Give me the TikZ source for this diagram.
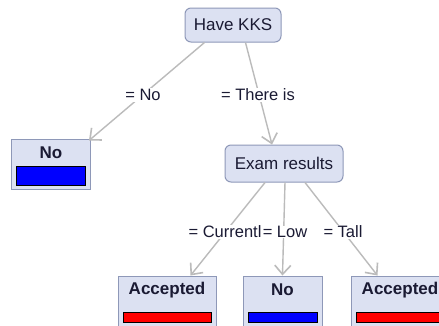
\documentclass[tikz,border=0pt]{standalone}
\usepackage{fontspec}
\setmainfont{Liberation Sans}
\usetikzlibrary{arrows.meta,calc}
\definecolor{boxfill}{HTML}{DCE1F2}
\definecolor{boxline}{HTML}{8E98B8}
\definecolor{edgec}{HTML}{BBBBBB}
\definecolor{txt}{HTML}{1A1A33}
\begin{document}
\begin{tikzpicture}[x=1pt,y=-1pt,
  inner/.style={draw=boxline, fill=boxfill, rounded corners=6pt, line width=1pt,
    font=\fontsize{17}{20}\selectfont, text=txt, inner sep=0pt},
  leafbox/.style={draw=boxline, fill=boxfill, line width=1pt, inner sep=0pt},
  leaftext/.style={font=\bfseries\fontsize{17}{20}\selectfont, text=txt, inner sep=0pt},
  barbox/.style={draw=black, line width=0.8pt, inner sep=0pt},
  edge/.style={draw=edgec, line width=1.4pt, -{Straight Barb[length=9pt,width=16pt,line width=1.6pt]}},
  elabel/.style={fill=white, font=\fontsize{16.5}{19}\selectfont, text=txt, inner sep=1pt}]
\useasboundingbox (0,0) rectangle (439,325);
\fill[white] (0,0) rectangle (439,325);
% inner nodes
\node[inner, minimum width=96pt, minimum height=34pt] (kks) at (233,25) {Have KKS};
\node[inner, minimum width=118pt, minimum height=37pt] (exam) at (284,163.5) {Exam results};
% left leaf
\node[leafbox, minimum width=79pt, minimum height=50pt] (no1) at (51,164) {};
\node[leaftext] (no1t) at (51,153) {No};
\node[barbox, fill=blue, minimum width=69pt, minimum height=19pt] (no1b) at (51,175.5) {};
% bottom leaves
\node[leafbox, minimum width=98pt, minimum height=52pt] (acc1) at (167,302) {};
\node[leaftext] (acc1t) at (167,290) {Accepted};
\node[barbox, fill=red, minimum width=88pt, minimum height=10pt] (acc1b) at (167,317) {};
\node[leafbox, minimum width=79pt, minimum height=52pt] (no2) at (282.5,302) {};
\node[leaftext] (no2t) at (282.5,290) {No};
\node[barbox, fill=blue, minimum width=69pt, minimum height=10pt] (no2b) at (282.5,317) {};
\node[leafbox, minimum width=98pt, minimum height=52pt] (acc2) at (400,302) {};
\node[leaftext] (acc2t) at (400,290) {Accepted};
\node[barbox, fill=red, minimum width=88pt, minimum height=10pt] (acc2b) at (400,317) {};
% edges
\draw[edge] ([xshift=20pt]kks.south west) -- ([shift={(-2pt,-2pt)}]no1.north east);
\draw[edge] ([xshift=-36pt]kks.south east) -- ([xshift=-12pt]exam.north);
\draw[edge] ([xshift=-19pt]exam.south) -- ([xshift=-26pt]acc1.north east);
\draw[edge] ([xshift=1pt]exam.south) -- ([xshift=0pt]no2.north);
\draw[edge] ([xshift=21pt]exam.south) -- ([xshift=27pt]acc2.north west);
\node[elabel] (l1) at (143,95) {= No};
\node[elabel] (l2) at (258,95) {= There is};
\node[elabel, inner sep=0.5pt] (l3) at (225,232) {= Currentl};
\node[elabel, inner sep=0.5pt] (l4) at (285,232) {= Low};
\node[elabel] (l5) at (343,232) {= Tall};
\end{tikzpicture}
\end{document}
